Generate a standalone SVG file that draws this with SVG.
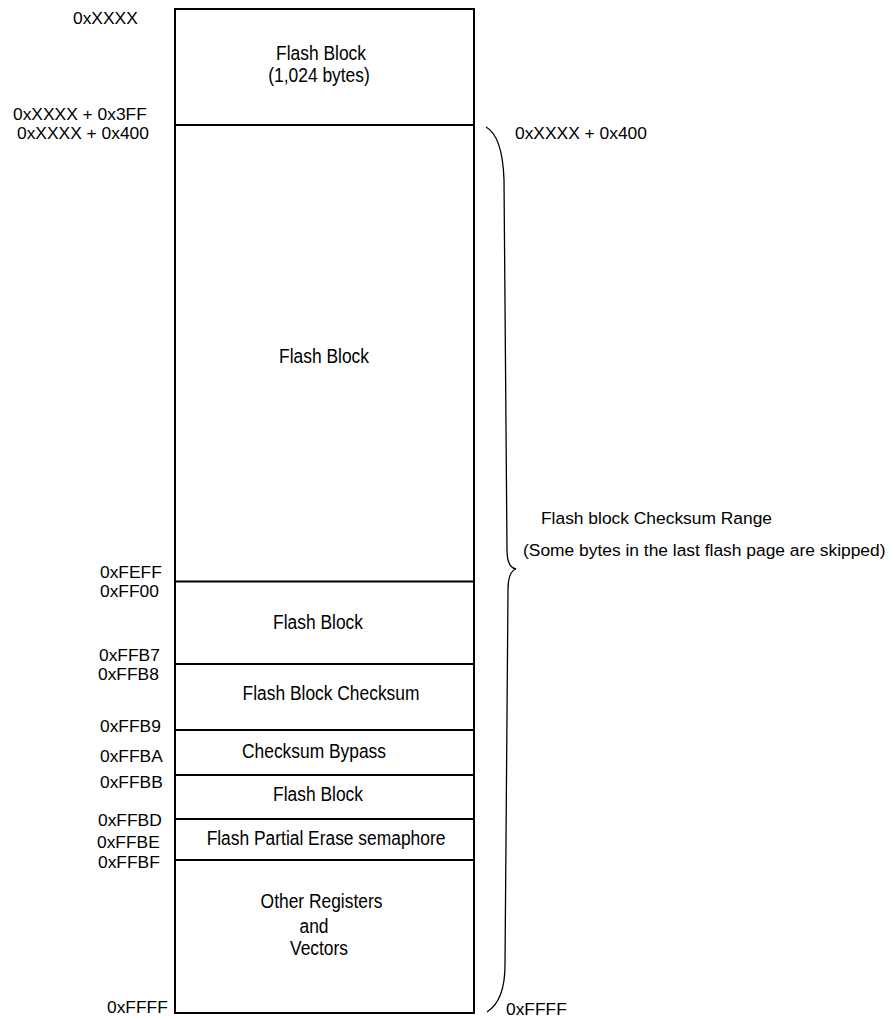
<svg xmlns="http://www.w3.org/2000/svg" width="893" height="1019" viewBox="0 0 893 1019">
<style>
text{font-family:"Liberation Sans",Arial,Helvetica,sans-serif;font-size:20px;fill:#000}
.c{text-anchor:middle}
.a{font-size:17.4px}
.box{fill:#fff;stroke:#000;stroke-width:2}
.div{stroke:#000;stroke-width:2;fill:none}
.brace{stroke:#000;stroke-width:1.3;fill:none}
</style>
<rect width="893" height="1019" fill="#fff"/>
<g id="memory-map">
<rect class="box" x="175" y="9" width="299" height="1004"/>
</g>
<g id="block-first">
<line class="div" x1="175" y1="125" x2="474" y2="125"/>
<text class="c" transform="translate(321,60) scale(0.87,1)">Flash Block</text>
<text class="c" transform="translate(319,82) scale(0.87,1)">(1,024 bytes)</text>
</g>
<g id="block-main">
<line class="div" x1="175" y1="581.5" x2="474" y2="581.5" stroke-width="2.6"/>
<text class="c" transform="translate(324,363) scale(0.87,1)">Flash Block</text>
</g>
<g id="block-ff00">
<line class="div" x1="175" y1="664" x2="474" y2="664"/>
<text class="c" transform="translate(318,629) scale(0.87,1)">Flash Block</text>
</g>
<g id="block-checksum">
<line class="div" x1="175" y1="730" x2="474" y2="730"/>
<text class="c" transform="translate(331,700) scale(0.87,1)">Flash Block Checksum</text>
</g>
<g id="block-bypass">
<line class="div" x1="175" y1="775" x2="474" y2="775"/>
<text class="c" transform="translate(314,758) scale(0.87,1)">Checksum Bypass</text>
</g>
<g id="block-ffbb">
<line class="div" x1="175" y1="819" x2="474" y2="819"/>
<text class="c" transform="translate(318,801) scale(0.87,1)">Flash Block</text>
</g>
<g id="block-semaphore">
<line class="div" x1="175" y1="860" x2="474" y2="860"/>
<text class="c" transform="translate(326,845) scale(0.87,1)">Flash Partial Erase semaphore</text>
</g>
<g id="block-vectors">
<text class="c" transform="translate(321.5,908) scale(0.87,1)">Other Registers</text>
<text class="c" transform="translate(314,933) scale(0.87,1)">and</text>
<text class="c" transform="translate(319,955) scale(0.87,1)">Vectors</text>
</g>
<g id="address-labels">
<text class="a" x="73" y="24">0xXXXX</text>
<text class="a" x="13" y="120">0xXXXX + 0x3FF</text>
<text class="a" x="17" y="139">0xXXXX + 0x400</text>
<text class="a" x="100" y="578">0xFEFF</text>
<text class="a" x="100" y="597">0xFF00</text>
<text class="a" x="99" y="661">0xFFB7</text>
<text class="a" x="98" y="680">0xFFB8</text>
<text class="a" x="100" y="732">0xFFB9</text>
<text class="a" x="100" y="762">0xFFBA</text>
<text class="a" x="100" y="788">0xFFBB</text>
<text class="a" x="98" y="826">0xFFBD</text>
<text class="a" x="97" y="848">0xFFBE</text>
<text class="a" x="98" y="868">0xFFBF</text>
<text class="a" x="107" y="1013">0xFFFF</text>
</g>
<g id="connectors">
<path class="brace" d="M486,127 C497,133 503,150 504,180 L507,550 C507,562 510,568 516,569 C510,571 508,578 508,590 L505,965 C505,990 498,1005 487,1012"/>
</g>
<g id="range-labels">
<text class="a" x="515" y="139">0xXXXX + 0x400</text>
<text class="a" x="541" y="524">Flash block Checksum Range</text>
<text class="a" x="523" y="556">(Some bytes in the last flash page are skipped)</text>
<text class="a" x="506" y="1015">0xFFFF</text>
</g>
</svg>
